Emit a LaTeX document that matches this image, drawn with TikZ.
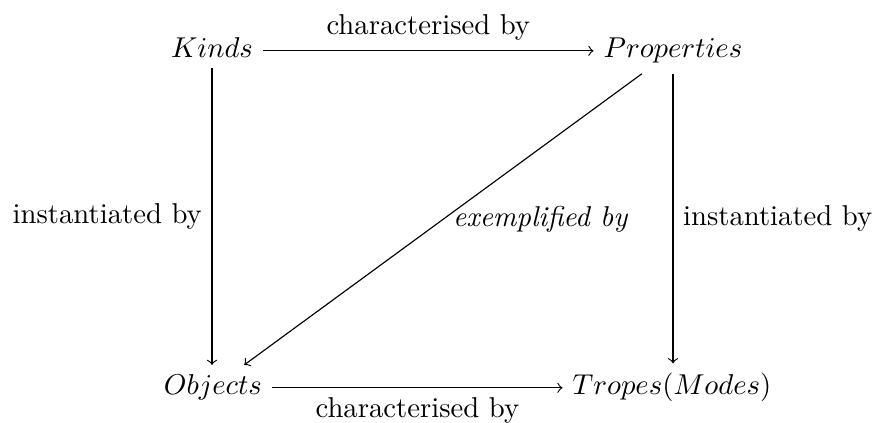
\documentclass[tikz,border=0pt]{standalone}
\begin{document}
\begin{tikzpicture}[x=0.3484pt,y=-0.3484pt,
  obj/.style={anchor=base, inner sep=3.33pt},
  lbl/.style={inner sep=3.33pt},
  arr/.style={->}]
\useasboundingbox (0,0) rectangle (877,423);
\node[obj] (K) at (212,58) {$Kinds$};
\node[obj] (P) at (673,58) {$Properties$};
\node[obj] (O) at (213,395) {$Objects$};
\node[obj] (T) at (672,395) {$Tropes(Modes)$};
\draw[arr] ([yshift=2.5pt]K.base east) -- node[lbl,above]{characterised by} ([yshift=2.5pt]P.base west);
\draw[arr] ([yshift=2.5pt]O.base east) -- node[lbl,below]{characterised by} ([yshift=2.5pt]T.base west);
\draw[arr] (K.south) -- node[lbl,left]{instantiated by} (K.south |- O.north);
\draw[arr] (P.south) -- node[lbl,right]{instantiated by} (P.south |- T.north);
\draw[arr] (P) -- node[lbl,anchor=west]{\textit{exemplified by}} (O);
\end{tikzpicture}
\end{document}
